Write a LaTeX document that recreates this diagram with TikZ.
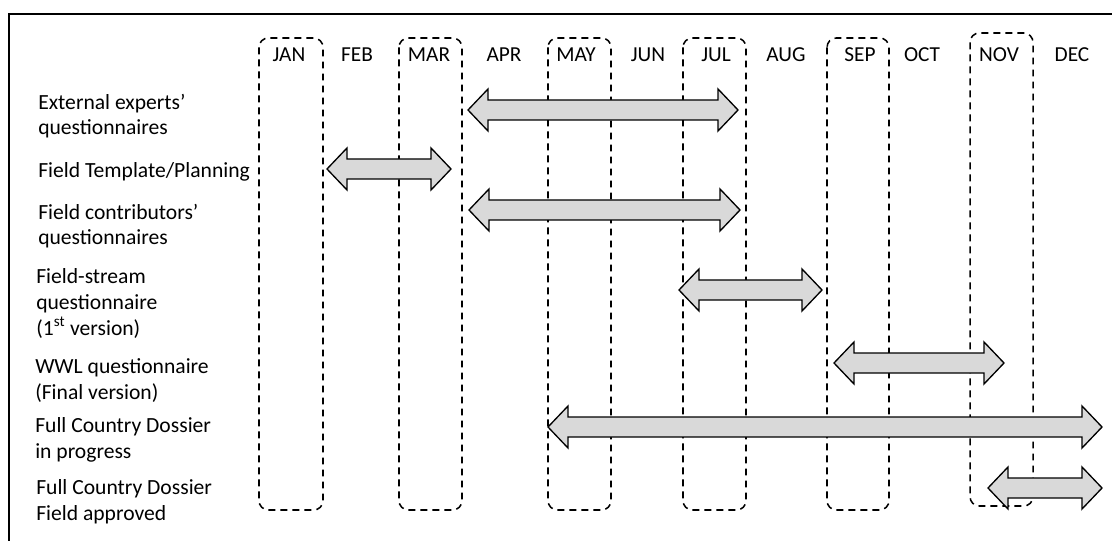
\documentclass[tikz,border=0pt]{standalone}
\usepackage{fontspec}
\setmainfont{Carlito}
\usetikzlibrary{calc}
\tikzset{
  frameline/.style={draw=black, line width=0.9pt},
  monthbox/.style={draw=black, line width=1.15pt, dash pattern=on 5.2pt off 3.8pt, rounded corners=7pt},
  garr/.style={draw=black, line width=1pt, fill=black!15, line join=miter},
  month/.style={anchor=base, inner sep=0pt, font=\fontsize{16pt}{19pt}\selectfont},
  rowlabel/.style={anchor=base west, inner sep=0pt, align=left, font=\fontsize{16.2pt}{19.2pt}\selectfont},
}
\newcommand\garrow[4]{%
  \path (#2,#4) coordinate (#1-l) (#3,#4) coordinate (#1-r);
  \draw[garr] (#1-l) -- ++(20,-21) -- ++(0,11) -- ($(#1-r)+(-20,-10)$) -- ++(0,-11) -- (#1-r)
     -- ++(-20,21) -- ++(0,-11) -- ($(#1-l)+(20,10)$) -- ++(0,11) -- cycle;}
\begin{document}
\begin{tikzpicture}[x=0.75pt, y=-0.75pt]
\useasboundingbox (0,0) rectangle (1112,541);
\fill[white] (0,0) rectangle (1112,541);
\draw[frameline] (9,560) |- (1130,14);
% month columns
\draw[monthbox] (259,38) rectangle (323,510);
\draw[monthbox] (399,38) rectangle (462,510);
\draw[monthbox] (548,38) rectangle (611,510);
\draw[monthbox] (683,38) rectangle (746,510);
\draw[monthbox] (827,38) rectangle (889,510);
\draw[monthbox] (970,33) rectangle (1033,506);
% month names
\node[month] (jan) at (289,62) {JAN};
\node[month] (feb) at (357,62) {FEB};
\node[month] (mar) at (429,62) {MAR};
\node[month] (apr) at (504,62) {APR};
\node[month] (may) at (576,62) {MAY};
\node[month] (jun) at (648,62) {JUN};
\node[month] (jul) at (716,62) {JUL};
\node[month] (aug) at (786,62) {AUG};
\node[month] (sep) at (860,62) {SEP};
\node[month] (oct) at (922,62) {OCT};
\node[month] (nov) at (999,62) {NOV};
\node[month] (dec) at (1072,62) {DEC};
% row labels (anchored at the baseline of their last line)
\node[rowlabel] (l1) at (38,135) {External experts’\\questionnaires};
\node[rowlabel] (l2) at (38,178) {Field Template/Planning};
\node[rowlabel] (l3) at (38,245) {Field contributors’\\questionnaires};
\node[rowlabel] (l4) at (36,335) {Field-stream\\questionnaire\\(1\textsuperscript{st} version)};
\node[rowlabel] (l5) at (35,399) {WWL questionnaire\\(Final version)};
\node[rowlabel] (l6) at (35,458) {Full Country Dossier\\in progress};
\node[rowlabel] (l7) at (36,520) {Full Country Dossier\\Field approved};
% arrows
\garrow{a1}{468}{738}{110}
\garrow{a2}{327}{451}{169}
\garrow{a3}{469}{740}{210}
\garrow{a4}{679}{822}{290}
\garrow{a5}{834}{1004}{363}
\garrow{a6}{548}{1102}{427}
\garrow{a7}{988}{1102}{488}
\end{tikzpicture}
\end{document}
